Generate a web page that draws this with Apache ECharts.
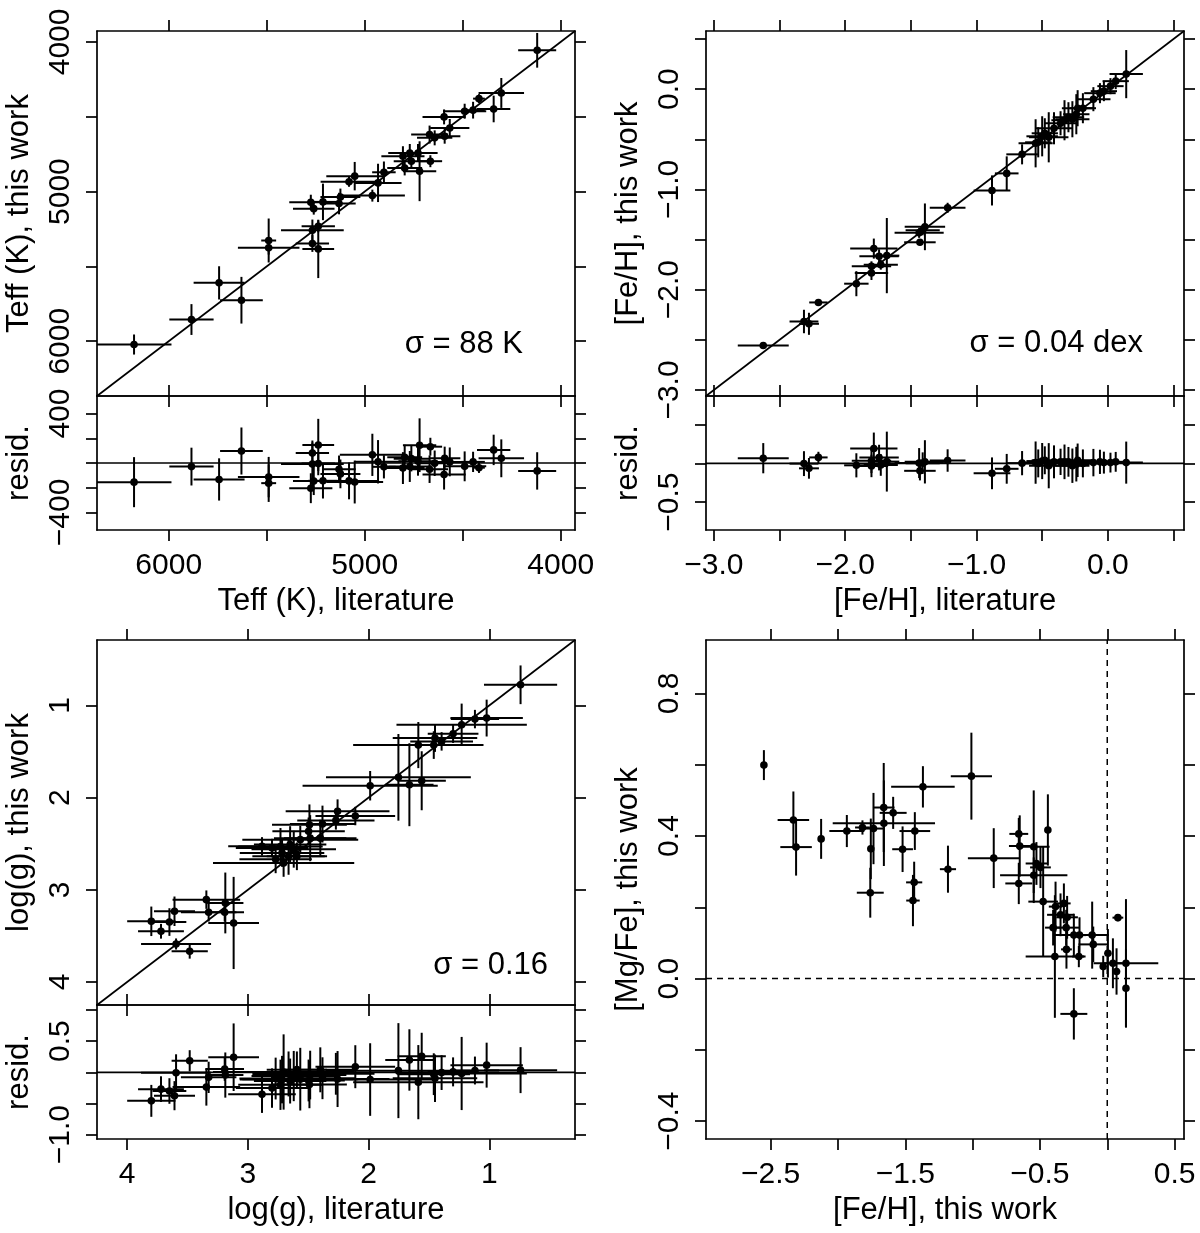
<!DOCTYPE html>
<html>
<head>
<meta charset="utf-8">
<script src="https://cdn.jsdelivr.net/npm/echarts@6.0.0/dist/echarts.min.js"></script>
<style>
html,body{margin:0;padding:0;background:#fff}
#chart{width:1200px;height:1233px}
</style>
</head>
<body>
<div id="chart"></div>
<script>
// Teff: literature value / error, this work value / error (K)
var teffLit     = [6177,5884,5743,5629,5490,5490,5267,5237,5267,5237,5275,5260,5213,5124,5131,5080,5051,4961,4932,4902,4805,4770,4796,4728,4720,4665,4762,4669,4643,4592,4566,4595,4490,4447,4417,4342,4303,4120];
var teffLitErr  = [191,113,130,109,38,157,160,85,85,81,110,106,75,102,85,145,145,166,120,60,110,110,89,100,85,60,90,94,90,80,100,110,110,60,30,85,116,97];
var teffWork    = [6022,5855,5610,5726,5327,5376,5258,5232,5347,5383,5071,5114,5069,5036,5080,4935,4897,5027,4942,4871,4764,4742,4842,4742,4864,4797,4797,4619,4641,4630,4575,4501,4463,4456,4379,4448,4341,4056];
var teffWorkErr = [67,103,111,156,147,45,71,40,56,195,50,40,122,56,72,33,95,40,128,72,67,60,50,60,200,40,50,60,50,50,60,50,50,56,30,89,100,116];

// [Fe/H]: literature vs this work
var fehLit     = [-2.624,-2.314,-2.276,-2.204,-1.915,-1.80,-1.80,-1.782,-1.742,-1.729,-1.683,-1.437,-1.393,-1.431,-1.41,-1.22,-0.882,-0.77,-0.653,-0.55,-0.53,-0.50,-0.48,-0.45,-0.41,-0.36,-0.33,-0.30,-0.27,-0.24,-0.23,-0.19,-0.11,-0.06,-0.03,0.02,0.06,0.14];
var fehLitErr  = [0.194,0.11,0.076,0.07,0.093,0.127,0.15,0.18,0.15,0.13,0.095,0.187,0.154,0.12,0.13,0.136,0.14,0.09,0.12,0.13,0.1,0.12,0.1,0.15,0.14,0.12,0.1,0.12,0.13,0.1,0.12,0.1,0.13,0.12,0.1,0.1,0.1,0.127];
var fehWork    = [-2.557,-2.317,-2.34,-2.127,-1.94,-1.833,-1.767,-1.59,-1.667,-1.75,-1.66,-1.433,-1.373,-1.527,-1.407,-1.183,-1.01,-0.84,-0.65,-0.54,-0.53,-0.47,-0.44,-0.48,-0.39,-0.34,-0.31,-0.28,-0.30,-0.25,-0.19,-0.19,-0.10,-0.04,-0.02,0.03,0.08,0.15];
var fehWorkErr = [0.02,0.117,0.11,0.02,0.125,0.07,0.05,0.1,0.07,0.05,0.375,0.05,0.233,0.03,0.05,0.05,0.15,0.17,0.1,0.24,0.15,0.2,0.15,0.25,0.16,0.12,0.2,0.15,0.18,0.2,0.18,0.15,0.12,0.1,0.1,0.08,0.08,0.24];

// log(g): literature vs this work
var loggLit     = [0.741,1.022,1.119,1.229,1.30,1.45,1.395,1.46,1.588,1.753,1.662,1.56,1.987,2.257,2.11,2.271,2.382,2.49,2.497,2.883,2.73,2.65,2.566,2.484,2.40,2.717,2.663,2.594,2.704,2.77,2.62,2.80,3.344,3.187,3.325,3.192,3.118,3.608,3.80,3.65,3.72,3.595,3.482];
var loggLitErr  = [0.303,0.30,0.20,0.54,0.21,0.35,0.26,0.30,0.54,0.60,0.20,0.20,0.56,0.43,0.33,0.32,0.27,0.31,0.30,0.28,0.35,0.30,0.48,0.30,0.30,0.35,0.30,0.25,0.585,0.30,0.35,0.30,0.28,0.15,0.23,0.16,0.21,0.17,0.20,0.14,0.19,0.29,0.15];
var loggWork    = [0.776,1.137,1.148,1.21,1.307,1.354,1.39,1.43,1.43,1.78,1.86,1.817,1.871,2.149,2.20,2.247,2.287,2.294,2.366,2.529,2.53,2.51,2.456,2.44,2.44,2.60,2.637,2.637,2.709,2.67,2.56,2.547,3.107,3.143,3.244,3.244,3.36,3.233,3.342,3.35,3.45,3.588,3.667];
var loggWorkErr = [0.21,0.20,0.10,0.23,0.10,0.15,0.10,0.15,0.25,0.47,0.45,0.32,0.16,0.13,0.10,0.10,0.20,0.22,0.15,0.10,0.20,0.20,0.15,0.25,0.20,0.15,0.20,0.15,0.15,0.15,0.20,0.10,0.10,0.33,0.10,0.10,0.50,0.16,0.16,0.15,0.08,0.06,0.08];

// [Mg/Fe] vs [Fe/H], this work
var mgFeh    = [-2.55,-2.331,-2.311,-2.125,-1.934,-1.818,-1.736,-1.756,-1.76,-1.66,-1.659,-1.59,-1.429,-1.52,-1.434,-1.443,-1.369,-1.183,-1.009,-0.843,-0.657,-0.65,-0.657,-0.546,-0.441,-0.526,-0.496,-0.546,-0.476,-0.389,-0.384,-0.322,-0.402,-0.347,-0.298,-0.305,-0.303,-0.248,-0.206,-0.211,-0.112,-0.104,-0.248,-0.03,0.005,0.042,0.069,0.079,0.139,0.139];
var mgFehErr = [0,0.117,0.117,0,0.13,0.055,0.08,0,0.1,0.08,0.38,0.1,0.114,0.077,0.06,0.05,0.236,0.06,0.153,0.192,0.07,0.08,0.1,0.118,0,0.08,0.077,0.25,0.11,0.217,0.05,0.05,0.06,0.1,0.08,0.1,0.04,0.15,0.05,0.05,0.124,0.11,0.1,0.02,0.02,0.07,0.02,0.04,0.24,0];
var mgFe     = [0.599,0.445,0.369,0.392,0.414,0.424,0.421,0.364,0.241,0.48,0.436,0.465,0.414,0.363,0.27,0.219,0.538,0.307,0.568,0.338,0.406,0.372,0.267,0.37,0.417,0.323,0.312,0.29,0.216,0.062,0.202,0.211,0.143,0.179,0.172,0.143,0.082,0.122,0.122,0.062,0.122,0.096,-0.099,0.034,0.071,0.043,0.02,0.171,0.043,-0.027];
var mgFeErr  = [0.042,0.08,0.08,0.056,0.045,0.02,0.1,0.085,0.07,0.125,0.12,0.045,0.053,0.064,0.058,0.072,0.058,0.066,0.122,0.084,0.045,0.086,0.058,0.158,0.1,0.06,0.058,0.05,0.154,0.172,0.07,0.056,0.05,0.06,0.06,0.05,0.054,0.06,0.05,0.03,0.094,0.05,0.072,0.03,0.068,0.07,0.065,0.01,0.18,0.11];

var FONT = "'Liberation Sans', Arial, Helvetica, sans-serif";
var LW = 1.7;      //轴线宽
var EW = 2;        //误差棒线宽

var chart = echarts.init(document.getElementById('chart'), null, {renderer: 'canvas'});

function fmt(dec)
{
	return function(v){
		var s = dec == null ? String(Math.round(v)) : v.toFixed(dec);
		return s.replace('-', '\u2212');
	};
}

//一个坐标轴：刻度朝外，标签可选
function mkAxis(pos, grid, min, max, inv, ticks, labels, dec, name, gap)
{
	var vertical = (pos == 'left' || pos == 'right');
	var a = {
		type: 'value', gridIndex: grid, position: pos, min: min, max: max, inverse: inv,
		axisLine: {show: true, onZero: false, lineStyle: {color: '#000', width: LW}},
		axisTick: {show: true, inside: false, length: 11, customValues: ticks, lineStyle: {color: '#000', width: LW}},
		axisLabel: {show: false},
		splitLine: {show: false}
	};
	if(labels)
	{
		a.axisLabel = {show: true, customValues: labels, formatter: fmt(dec), color: '#000',
			fontSize: 30, fontFamily: FONT, margin: 21, rotate: vertical ? 90 : 0};
	}
	if(name)
	{
		a.name = name;
		a.nameLocation = 'middle';
		a.nameGap = gap;
		a.nameRotate = vertical ? 90 : 0;
		a.nameTextStyle = {color: '#000', fontSize: 31, fontFamily: FONT};
	}
	return a;
}

var grids = [], xAxes = [], yAxes = [], series = [];

function errRender(params, api)
{
	var x = api.value(0), y = api.value(1), ex = api.value(2), ey = api.value(3);
	var l = api.coord([x - ex, y]), r = api.coord([x + ex, y]);
	var b = api.coord([x, y - ey]), t = api.coord([x, y + ey]);
	var c = api.coord([x, y]);
	var st = {stroke: '#000', lineWidth: EW};
	return {type: 'group', children: [
		{type: 'line', shape: {x1: l[0], y1: l[1], x2: r[0], y2: r[1]}, style: st},
		{type: 'line', shape: {x1: b[0], y1: b[1], x2: t[0], y2: t[1]}, style: st},
		{type: 'circle', shape: {cx: c[0], cy: c[1], r: 3.8}, style: {fill: '#000'}}
	]};
}

//一个面板：grid + 四条轴 + 误差棒
function addPanel(box, xr, yr, xinv, yinv, xt, xl, xd, yt, yl, yd, xname, yname, data)
{
	var g = grids.length;
	grids.push({left: box[0], top: box[1], width: box[2], height: box[3]});
	xAxes.push(mkAxis('bottom', g, xr[0], xr[1], xinv, xt, xl, xd, xname, 56));
	xAxes.push(mkAxis('top', g, xr[0], xr[1], xinv, xt, null, xd));
	yAxes.push(mkAxis('left', g, yr[0], yr[1], yinv, yt, yl, yd, yname, 62));
	yAxes.push(mkAxis('right', g, yr[0], yr[1], yinv, yt, null, yd));
	series.push({type: 'custom', xAxisIndex: 2 * g, yAxisIndex: 2 * g, clip: true,
		renderItem: errRender, encode: {x: 0, y: 1}, data: data, silent: true});
	return g;
}

function addLine(g, pts, dashed)
{
	series.push({type: 'line', xAxisIndex: 2 * g, yAxisIndex: 2 * g, data: pts, showSymbol: false,
		silent: true, clip: true, lineStyle: {color: '#000', width: dashed ? 1.5 : LW, type: dashed ? [6, 5] : 'solid'}});
}

function pairs(x, ex, y, ey)
{
	return x.map(function(v, i){ return [v, y[i], ex[i], ey[i]]; });
}
function resid(x, ex, y, ey)
{
	return x.map(function(v, i){ return [v, y[i] - v, ex[i], Math.sqrt(ex[i] * ex[i] + ey[i] * ey[i])]; });
}

// 左上 Teff
var tR = [3927, 6366];
var tTicks = [4000, 4500, 5000, 5500, 6000];
var tLab = [4000, 5000, 6000];
var g0 = addPanel([97, 31, 478, 365], tR, tR, true, true, tTicks, null, null, tTicks, tLab, null,
	null, 'Teff (K), this work', pairs(teffLit, teffLitErr, teffWork, teffWorkErr));
addLine(g0, [[tR[0], tR[0]], [tR[1], tR[1]]]);
var g1 = addPanel([97, 396, 478, 134], tR, [-542, 542], true, false, tTicks, tLab, null,
	[-400, -200, 0, 200, 400], [-400, 400], null,
	'Teff (K), literature', 'resid.', resid(teffLit, teffLitErr, teffWork, teffWorkErr));
addLine(g1, [[tR[0], 0], [tR[1], 0]]);

// 右上 [Fe/H]
var fR = [-3.06, 0.58];
var fTicks = [-3, -2.5, -2, -1.5, -1, -0.5, 0, 0.5];
var fLab = [-3, -2, -1, 0];
var g2 = addPanel([706, 31, 478, 365], fR, fR, false, false, fTicks, null, 1, fTicks, fLab, 1,
	null, '[Fe/H], this work', pairs(fehLit, fehLitErr, fehWork, fehWorkErr));
addLine(g2, [[fR[0], fR[0]], [fR[1], fR[1]]]);
var g3 = addPanel([706, 396, 478, 134], fR, [-0.86, 0.87], false, false, fTicks, fLab, 1,
	[-0.5, 0, 0.5], [-0.5], 1,
	'[Fe/H], literature', 'resid.', resid(fehLit, fehLitErr, fehWork, fehWorkErr));
addLine(g3, [[fR[0], 0], [fR[1], 0]]);

// 左下 log(g)
var gR = [0.29, 4.25];
var gTicks = [1, 2, 3, 4];
var g4 = addPanel([97, 640, 478, 365], gR, gR, true, true, gTicks, null, null, gTicks, gTicks, null,
	null, 'log(g), this work', pairs(loggLit, loggLitErr, loggWork, loggWorkErr));
addLine(g4, [[gR[0], gR[0]], [gR[1], gR[1]]]);
var g5 = addPanel([97, 1005, 478, 134], gR, [-1.07, 1.08], true, false, gTicks, gTicks, null,
	[-1, -0.5, 0, 0.5, 1], [-1, 0.5], 1,
	'log(g), literature', 'resid.', resid(loggLit, loggLitErr, loggWork, loggWorkErr));
addLine(g5, [[gR[0], 0], [gR[1], 0]]);

// 右下 [Mg/Fe] vs [Fe/H]
var mxR = [-2.98, 0.57], myR = [-0.45, 0.95];
var g6 = addPanel([706, 640, 478, 499], mxR, myR, false, false,
	[-2.5, -2, -1.5, -1, -0.5, 0, 0.5], [-2.5, -1.5, -0.5, 0.5], 1,
	[-0.4, -0.2, 0, 0.2, 0.4, 0.6, 0.8], [-0.4, 0, 0.4, 0.8], 1,
	'[Fe/H], this work', '[Mg/Fe], this work', pairs(mgFeh, mgFehErr, mgFe, mgFeErr));
addLine(g6, [[mxR[0], 0], [mxR[1], 0]], true);
addLine(g6, [[0, myR[0]], [0, myR[1]]], true);

var sig = function(x, y, s){
	return {type: 'text', x: x, y: y, silent: true,
		style: {text: s, fill: '#000', fontSize: 31, fontFamily: FONT, align: 'right', verticalAlign: 'middle'}};
};

chart.setOption({
	backgroundColor: '#fff',
	animation: false,
	grid: grids,
	xAxis: xAxes,
	yAxis: yAxes,
	series: series,
	graphic: [
		sig(523, 344, '\u03c3 = 88 K'),
		sig(1143, 343, '\u03c3 = 0.04 dex'),
		sig(548, 965, '\u03c3 = 0.16')
	]
});
</script>
</body>
</html>
